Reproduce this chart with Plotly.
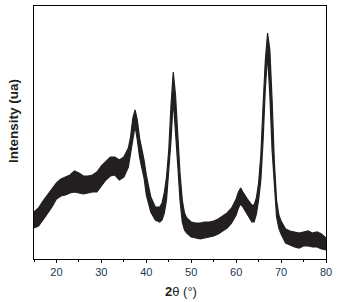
import plotly.graph_objects as go

# 2-theta positions (degrees) and the upper / lower edge of the noisy scatter band
two_theta = [15, 16, 17, 18, 19, 20, 21, 22, 23, 24, 25, 26, 27, 28, 29, 30, 31, 32, 33, 34, 35,
             36, 36.5, 37, 37.5, 38, 38.5, 39, 39.5, 40, 40.5, 41, 42, 43, 43.5, 44, 44.5, 45,
             45.5, 46, 46.5, 47, 47.5, 48, 48.5, 49, 50, 51, 52, 53, 54, 55, 56, 57, 58, 59, 60,
             60.5, 61, 61.5, 62, 62.5, 63, 63.5, 64, 64.5, 65, 65.5, 66, 66.5, 67, 67.5, 68,
             68.5, 69, 69.5, 70, 71, 72, 73, 74, 75, 76, 77, 78, 79, 80]
intensity_upper = [47, 51, 58, 64, 70, 76, 80, 82, 84, 88, 86, 83, 83, 84, 87, 93, 98, 102, 102, 99, 102,
                   111, 122, 141, 149, 139, 121, 111, 99, 84, 72, 62, 52, 52, 56, 66, 82, 109,
                   154, 187, 164, 121, 86, 59, 46, 41, 37, 36, 36, 37, 37, 38, 40, 43, 46, 51, 60,
                   67, 71, 67, 63, 60, 57, 54, 54, 61, 76, 104, 154, 199, 226, 209, 159,
                   97, 59, 44, 38, 30, 28, 27, 26, 27, 28, 26, 27, 25, 21]
intensity_lower = [31, 33, 39, 45, 52, 60, 63, 64, 66, 67, 66, 65, 66, 67, 67, 73, 79, 83, 84, 79, 82,
                   92, 107, 122, 133, 119, 102, 91, 81, 64, 54, 47, 39, 37, 39, 46, 59, 87,
                   119, 159, 129, 94, 59, 37, 29, 26, 22, 21, 20, 21, 22, 23, 25, 28, 31, 36, 44,
                   51, 55, 52, 48, 44, 41, 37, 37, 45, 59, 79, 119, 171, 204, 164, 109,
                   71, 42, 31, 25, 16, 14, 12, 11, 13, 13, 12, 12, 10, 9]

ink = "#231f20"

fig = go.Figure()
fig.add_trace(go.Scatter(x=two_theta, y=intensity_lower, mode="lines",
                         line=dict(color=ink, width=1.2), showlegend=False, hoverinfo="skip"))
fig.add_trace(go.Scatter(x=two_theta, y=intensity_upper, mode="lines", fill="tonexty",
                         fillcolor=ink, line=dict(color=ink, width=1.2), showlegend=False))

fig.update_layout(
    width=337, height=302,
    margin=dict(l=34, r=11, t=6, b=43),
    plot_bgcolor="white", paper_bgcolor="white",
    font=dict(family="Liberation Sans, Arial, sans-serif", size=11, color="#26384f"),
)

fig.update_xaxes(range=[15, 80], tick0=0, dtick=10, ticks="outside", ticklen=3, tickcolor="black",
                 showline=True, linecolor="black", linewidth=1, mirror=True, showgrid=False,
                 zeroline=False, minor=dict(dtick=5, ticks="outside", ticklen=2, tickcolor="black"))
fig.update_yaxes(range=[0, 253], showticklabels=False, ticks="", showline=True, linecolor="black",
                 linewidth=1, mirror=True, showgrid=False, zeroline=False)

fig.add_annotation(text="<b>Intensity (ua)</b>", textangle=-90, xref="paper", yref="paper",
                   x=-0.072, y=0.545, xanchor="center", yanchor="middle", showarrow=False,
                   font=dict(size=13.5, color="#231f20", family="Liberation Sans, Arial, sans-serif"))
fig.add_annotation(text="<b>2</b>θ (°)", xref="paper", yref="paper", x=0.503, y=-0.13,
                   xanchor="center", yanchor="middle", showarrow=False,
                   font=dict(size=13, color="#231f20", family="Liberation Sans, Arial, sans-serif"))

# the browser adds a default 8px body margin; drop it so the figure sits at the page corner
fig.write_html("out.html", config={"displayModeBar": False},
               post_script="document.body.style.margin='0';")
